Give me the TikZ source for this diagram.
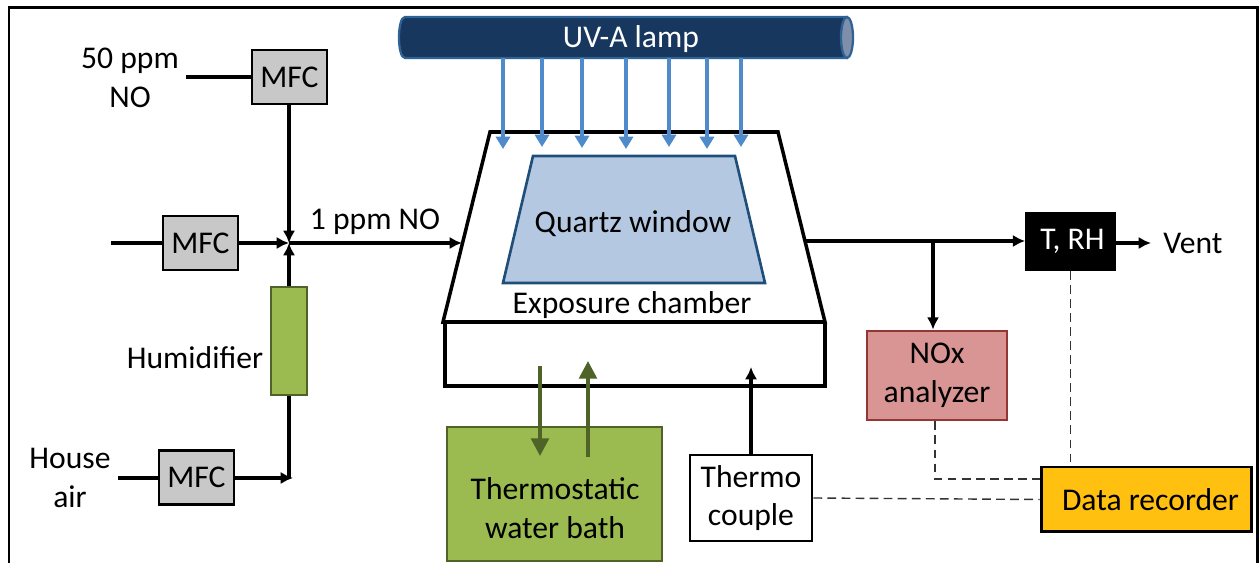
\documentclass[tikz,border=0pt]{standalone}
\usepackage{fontspec}
\setmainfont{Carlito}
\usetikzlibrary{arrows.meta}

\definecolor{lampblue}{HTML}{17375E}
\definecolor{lampedge}{HTML}{2F6295}
\definecolor{lampcap}{HTML}{7F8FA9}
\definecolor{rayblue}{HTML}{4F8BCB}
\definecolor{quartzfill}{HTML}{B4C8E2}
\definecolor{quartzedge}{HTML}{1F4E79}
\definecolor{mfcgray}{HTML}{C8C8C8}
\definecolor{leafgreen}{HTML}{9BBB50}
\definecolor{darkgreen}{HTML}{4F6228}
\definecolor{noxfill}{HTML}{D99594}
\definecolor{noxedge}{HTML}{943634}
\definecolor{recorderfill}{HTML}{FFC010}

\begin{document}
\begin{tikzpicture}[x=0.02cm, y=-0.02cm,
    every node/.style={font=\fontsize{18}{22}\selectfont, align=center, inner sep=0pt},
    mfc/.style={draw, fill=mfcgray, line width=1.6pt, minimum width=1.5cm, minimum height=1.08cm},
    flow/.style={line width=2pt, -{Latex[length=7pt,width=7pt]}},
    plainflow/.style={line width=2pt},
    ray/.style={draw=rayblue, line width=1.8pt, -{Triangle[length=7pt,width=8pt]}},
    bathflow/.style={draw=darkgreen, line width=2pt, -{Triangle[length=10pt,width=10pt]}},
    signal/.style={draw=black!80, line width=0.8pt, dash pattern=on 5pt off 3pt}
  ]
  \useasboundingbox (0,0) rectangle (1259,563);

  \draw [line width=1.7pt] (9,563) -- (9,8) -- (1257,8) -- (1257,563);

  \draw [draw=lampedge, fill=lampblue, line width=1.3pt] (847,17) -- (405,17)
    .. controls (397,17) and (397,58) .. (405,58) -- (847,58) -- cycle;
  \draw [draw=lampedge, fill=lampcap, line width=1.3pt] (847,37.5) ellipse [x radius=6, y radius=20.5];
  \node [name=lamp, text=white, minimum height=0.76cm] at (631,39) {UV-A lamp};

  \draw [line width=2pt, line join=miter] (490,132) -- (778,132) -- (825,322) -- (443,322) -- cycle;
  \draw [line width=2pt] (445,322) -- (445,386) -- (825,386) -- (825,322);
  \draw [draw=quartzedge, fill=quartzfill, line width=1.5pt] (533,156) -- (735,156) -- (765,283) -- (503,283) -- cycle;
  \node [name=quartz] at (633,223.5) {Quartz window};
  \node [name=chamberlabel] at (632,305) {Exposure chamber};

  \foreach \x/\y in {503/149, 542/147, 582/148, 626/149, 669/147, 707/149, 741/147} {
    \coordinate (rayend) at (\x,\y);
    \draw [ray] (lamp.south -| rayend) -- (rayend);
  }

  \node [name=mfctop, mfc] at (289.5,77) {MFC};
  \node [name=mfcmid, mfc] at (200.5,243) {MFC};
  \node [name=mfcbot, mfc] at (196.5,477.5) {MFC};
  \node [name=humidifier, draw=darkgreen, fill=leafgreen, line width=1.5pt,
    minimum width=0.72cm, minimum height=2.16cm] at (289,341) {};
  \node [name=humidlabel] at (195,358) {Humidifier};

  \node [name=nolabel] at (130,78) {50 ppm\\NO};
  \node [name=airlabel] at (70,478) {House\\air};
  \node [name=ppmlabel] at (375,222) {1 ppm NO};
  \node [name=ventlabel] at (1193,243) {Vent};

  \node [name=bath, draw=darkgreen, fill=leafgreen, line width=1.5pt,
    minimum width=4.3cm, minimum height=2.68cm] at (554.5,494) {};
  \node [name=bathlabel] at (555,508) {Thermostatic\\water bath};
  \node [name=thermo, draw, line width=1.6pt, minimum width=2.44cm, minimum height=1.72cm] at (751,498) {Thermo\\couple};
  \node [name=nox, draw=noxedge, fill=noxfill, line width=1.6pt, minimum width=2.8cm, minimum height=1.78cm] at (937,375.5) {NOx\\analyzer};
  \node [name=trh, draw, fill=black, text=white, line width=1pt, minimum width=1.78cm, minimum height=1.14cm] at (1070.5,241.5) {\hspace*{0.08cm}T, RH};
  \node [name=recorder, draw, fill=recorderfill, line width=1.7pt, minimum width=4.22cm, minimum height=1.3cm] at (1146.5,499.5) {\hspace*{0.16cm}Data recorder};

  \coordinate (mix) at (289,243);
  \coordinate (noin) at (186,77);
  \coordinate (midin) at (111,243);
  \coordinate (airin) at (118,478);
  \coordinate (airend) at (293,478);
  \coordinate (chamberin) at (462,243);
  \coordinate (chamberout) at (806,241);
  \coordinate (tap) at (933,241);
  \coordinate (ventend) at (1151,243);
  \coordinate (bathtop) at (540,366);
  \coordinate (bathin) at (540,456);
  \coordinate (bathout) at (588,457);
  \coordinate (bathend) at (588,361);
  \coordinate (thermoend) at (751,367);
  \coordinate (noxbend) at (935,479);

  \draw [plainflow] (noin) -- (noin -| mfctop.west);
  \draw [flow] (mfctop.south -| mix) -- (mix);
  \draw [plainflow] (midin) -- (mfcmid.west);
  \draw [flow] (mfcmid.east) -- (mix);
  \draw [flow] (humidifier.north) -- (mix);
  \draw [plainflow] (airin) -- (airin -| mfcbot.west);
  \draw [flow] (mfcbot.east |- airend) -- (airend);
  \draw [plainflow] (humidifier.south) -- (humidifier.south |- airend);
  \draw [flow] (mix) -- (chamberin);
  \draw [flow] (chamberout) -- (trh.west |- chamberout);
  \draw [flow] (tap) -- (tap |- nox.north);
  \draw [flow] (trh.east |- ventend) -- (ventend);

  \draw [bathflow] (bathtop) -- (bathin);
  \draw [bathflow] (bathout) -- (bathend);
  \draw [flow] (thermo.north) -- (thermoend);

  \draw [signal] (nox.south -| noxbend) -- (noxbend) -- (noxbend -| recorder.west);
  \draw [signal] (trh.south) -- (trh.south |- recorder.north);
  \draw [signal] (thermo.east) -- (recorder.west);

\end{tikzpicture}
\end{document}
